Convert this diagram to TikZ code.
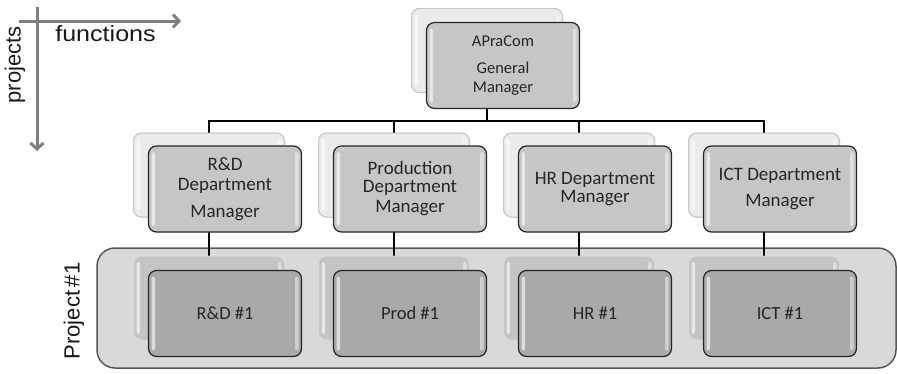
\documentclass[tikz,border=0pt]{standalone}
\usepackage{graphicx}
\usepackage{fontspec}
\setmainfont{Carlito}
\newfontfamily\arialf{Liberation Sans}
\usetikzlibrary{arrows.meta}
\definecolor{txt}{HTML}{262626}
\definecolor{backtop}{HTML}{EBEBEB}
\definecolor{backtopdraw}{HTML}{C8C8C8}
\definecolor{fronttop}{HTML}{C6C6C6}
\definecolor{backbot}{HTML}{C4C4C4}
\definecolor{backbotdraw}{HTML}{DADADA}
\definecolor{frontbot}{HTML}{A9A9A9}
\definecolor{contfill}{HTML}{D9D9D9}
\definecolor{contdraw}{HTML}{595959}
\definecolor{axisgray}{HTML}{808080}
\begin{document}
\begin{tikzpicture}[x=1pt,y=-1pt,
  gloss/.style={path picture={
    \fill[white,opacity=.6,rounded corners=2pt]
      ([xshift=3pt,yshift=-6pt]path picture bounding box.north west) rectangle
      ([xshift=6.5pt,yshift=6pt]path picture bounding box.south west);
    \fill[white,opacity=.45,rounded corners=2pt]
      ([xshift=-3pt,yshift=-6pt]path picture bounding box.north east) rectangle
      ([xshift=-6.5pt,yshift=6pt]path picture bounding box.south east);}},
  boxbase/.style={rounded corners=8pt, inner sep=0pt, gloss},
  backtopbox/.style={boxbase, draw=backtopdraw, fill=backtop, line width=1pt,
    minimum width=151pt, minimum height=84pt},
  fronttopbox/.style={boxbase, draw=black!85, fill=fronttop, line width=1.2pt,
    minimum width=153pt, minimum height=86pt, align=center, text=txt,
    font=\fontsize{19}{18}\selectfont},
  backbotbox/.style={boxbase, draw=backbotdraw, fill=backbot, line width=1pt,
    minimum width=151pt, minimum height=84pt},
  frontbotbox/.style={boxbase, draw=black!85, fill=frontbot, line width=1.2pt,
    minimum width=153pt, minimum height=86pt, align=center, text=txt,
    font=\fontsize{18.5}{18}\selectfont},
  conn/.style={draw=black, line width=1.4pt},
  axisarrow/.style={draw=axisgray, line width=3pt,
    -{Straight Barb[length=6pt,width=13pt,line width=3pt]}},
  axislabel/.style={font=\arialf\fontsize{22}{24}\selectfont, text=black!90, inner sep=0pt}
]
\useasboundingbox (0,0) rectangle (897,373);

% project container
\node[draw=contdraw, fill=contfill, line width=1.5pt, rounded corners=18pt,
  minimum width=799pt, minimum height=120pt, inner sep=0pt] (proj) at (496.5,308) {};

% axes
\coordinate (hs) at (19,21);
\coordinate (he) at (181,21);
\coordinate (vs) at (37,7);
\coordinate (ve) at (37,151);
\draw[axisarrow] (hs) -- (he);
\draw[axisarrow] (vs) -- (ve);
\node[axislabel] (lfun) at (105.5,34) {\scalebox{1.14}[1]{functions}};
\node[axislabel, rotate=90] (lproj) at (15,65) {projects};
\node[axislabel, rotate=90] (lp1) at (74,311) {Project\,\#1};

% general manager
\node[backtopbox] (gmB) at (487,50.5) {};

% department back boxes
\node[backtopbox] (rdB) at (209,175) {};
\node[backtopbox] (prB) at (394,175) {};
\node[backtopbox] (hrB) at (579,175) {};
\node[backtopbox] (icB) at (764,175) {};

% project back boxes
\node[backbotbox] (rd1B) at (209,298) {};
\node[backbotbox] (pr1B) at (394,298) {};
\node[backbotbox] (hr1B) at (579,298) {};
\node[backbotbox] (ic1B) at (764,298) {};

% connectors
\coordinate (bar) at (0,121);
\draw[conn] (gmB.south) -- (gmB.south |- bar) -| (rdB.north);
\draw[conn] (gmB.south |- bar) -| (prB.north);
\draw[conn] (gmB.south |- bar) -| (hrB.north);
\draw[conn] (gmB.south |- bar) -| (icB.north);
\draw[conn] (rdB.south) -- (rd1B.north);
\draw[conn] (prB.south) -- (pr1B.north);
\draw[conn] (hrB.south) -- (hr1B.north);
\draw[conn] (icB.south) -- (ic1B.north);

% redraw back boxes on top of connectors
\node[backtopbox] at (gmB) {};
\node[backtopbox] at (rdB) {};
\node[backtopbox] at (prB) {};
\node[backtopbox] at (hrB) {};
\node[backtopbox] at (icB) {};
\node[backbotbox] at (rd1B) {};
\node[backbotbox] at (pr1B) {};
\node[backbotbox] at (hr1B) {};
\node[backbotbox] at (ic1B) {};

% front boxes
\node[fronttopbox, font=\fontsize{16.5}{17}\selectfont] (gmF) at (503,65.5)
  {APraCom\\[10pt]General\\[2pt]Manager};
\node[fronttopbox] (rdF) at (225,189) {R\&D\\[2pt]Department\\[9pt]Manager};
\node[fronttopbox] (prF) at (410,189) {Production\\Department\\[2pt]Manager};
\node[fronttopbox] (hrF) at (595,189) {HR Department\\Manager};
\node[fronttopbox] (icF) at (780,189) {ICT Department\\[8pt]Manager};

\node[frontbotbox] (rd1F) at (225,313.5) {R\&D \#1};
\node[frontbotbox] (pr1F) at (410,313.5) {Prod \#1};
\node[frontbotbox] (hr1F) at (595,313.5) {HR \#1};
\node[frontbotbox] (ic1F) at (780,313.5) {ICT \#1};
\end{tikzpicture}
\end{document}
